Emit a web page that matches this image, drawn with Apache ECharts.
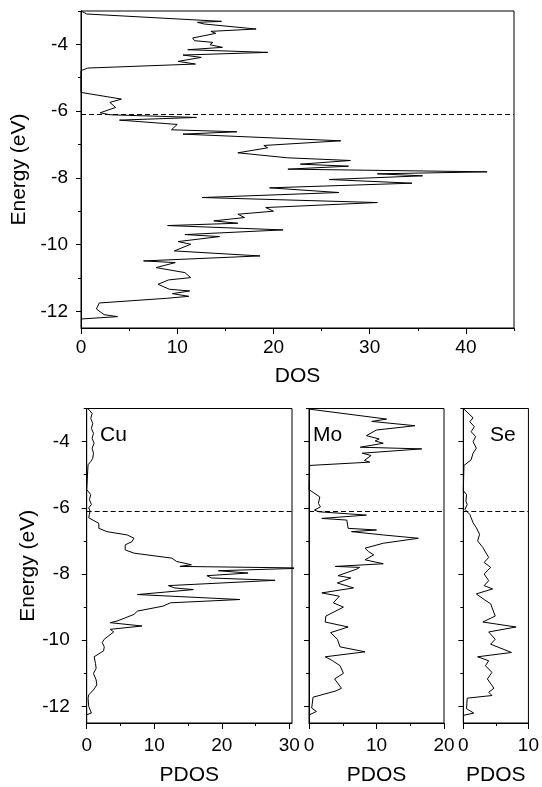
<!DOCTYPE html>
<html>
<head>
<meta charset="utf-8">
<script src="https://cdn.jsdelivr.net/npm/echarts@6/dist/echarts.min.js"></script>
<style>
html,body{margin:0;padding:0;background:#fff;}
#c{width:542px;height:787px;}
</style>
</head>
<body>
<div id="c"></div>
<script>
// ---- data (energy in eV, density of states) ----
var fermiLevel = -6.1;

var dosE = [-3.00,-3.09,-3.31,-3.34,-3.39,-3.54,-3.61,-3.67,-3.81,-3.89,-3.94,-4.01,-4.09,-4.16,-4.24,-4.32,-4.39,-4.51,-4.59,-4.71,-4.79,
  -5.44,-5.64,-5.74,-5.89,-6.05,-6.11,-6.19,-6.27,-6.40,-6.56,-6.62,-6.69,-6.89,-7.03,-7.10,-7.25,-7.40,-7.48,-7.59,-7.65,-7.74,-7.82,-7.88,-7.94,
  -8.05,-8.16,-8.30,-8.44,-8.59,-8.74,-8.89,-9.00,-9.09,-9.19,-9.29,-9.36,-9.43,-9.56,-9.70,-9.76,-9.91,-9.99,-10.19,-10.34,-10.49,-10.54,
  -10.69,-10.84,-10.99,-11.06,-11.19,-11.34,-11.39,-11.47,-11.55,-11.61,-11.75,-11.93,-12.10,-12.16,-12.23];
var dosV = [0,0.6,14.6,12.1,12.8,18.2,13.5,14.0,11.6,11.8,13.7,13.4,14.7,11.1,19.4,10.6,12.5,10.1,11.9,0.7,0,
  0,4.2,3.0,3.6,2.0,3.0,12.0,4.0,10.0,9.4,16.2,10.6,27.0,19.0,19.4,16.3,21.5,28.0,22.8,27.8,21.5,42.2,30.8,35.5,
  25.8,34.4,19.6,26.8,12.6,30.8,19.2,20.0,16.3,17.0,13.8,16.3,9.0,21.0,10.8,14.4,10.1,11.4,9.7,18.6,6.5,9.8,
  7.8,10.8,11.4,9.1,8.0,9.2,11.3,9.5,11.2,8.9,1.9,1.6,2.4,3.8,0];

var cuE = [-3.00,-3.05,-3.15,-3.30,-3.45,-3.60,-3.75,-3.90,-4.05,-4.20,-4.35,-4.50,-4.60,-4.70,-4.75,
  -5.45,-5.60,-5.75,-5.90,-6.00,-6.10,-6.20,-6.30,-6.47,-6.62,-6.72,-6.82,-6.92,-7.02,-7.12,-7.27,-7.37,-7.52,-7.62,-7.72,-7.77,-7.82,
  -7.90,-7.97,-8.05,-8.12,-8.19,-8.35,-8.42,-8.47,-8.62,-8.77,-8.87,-8.97,-9.12,-9.22,-9.42,-9.47,-9.57,-9.67,-9.75,-9.97,-10.07,-10.20,
  -10.32,-10.50,-10.70,-10.85,-11.00,-11.20,-11.35,-11.50,-11.65,-11.75,-12.00,-12.20,-12.25];
var cuV = [0.1,0.4,0.8,0.6,0.9,0.7,1.0,0.8,1.1,0.8,1.0,0.9,0.6,0.2,0,
  0,0.6,0.4,0.7,0.3,0.5,0.4,0.3,1.8,1.8,3.0,6.0,7.0,6.7,5.7,5.7,7.0,12.6,13.3,15.5,13.8,32.6,
  19.5,23.9,17.8,18.5,27.9,12.1,13.0,15.8,7.5,22.7,12.4,11.3,7.5,7.0,4.5,3.5,8.2,3.5,4.0,2.6,2.3,2.6,
  2.5,1.1,1.3,1.4,1.0,1.4,1.5,1.0,0.3,0.2,0.3,0.7,0];

var moE = [-3.02,-3.32,-3.39,-3.52,-3.65,-3.82,-3.92,-3.98,-4.05,-4.17,-4.22,-4.35,-4.42,-4.57,-4.62,-4.72,
  -5.45,-5.67,-5.87,-5.97,-6.07,-6.12,-6.22,-6.32,-6.37,-6.62,-6.67,-6.72,-6.82,-6.92,-7.07,-7.22,-7.32,-7.42,-7.57,-7.69,-7.77,-7.80,-7.85,
  -8.05,-8.12,-8.27,-8.42,-8.57,-8.67,-8.87,-9.00,-9.27,-9.45,-9.60,-9.77,-9.97,-10.20,-10.35,-10.50,-10.62,-10.77,-11.00,-11.17,
  -11.45,-11.53,-11.72,-12.05,-12.15,-12.25];
var moV = [0.1,11.5,9.3,15.7,10.0,8.5,10.4,9.8,11.0,7.6,16.7,7.9,9.2,8.2,9.0,0.1,
  0,1.6,1.4,1.7,0.8,1.5,8.5,1.9,5.6,5.8,10.0,6.3,11.0,16.2,11.0,8.3,8.8,9.6,8.3,11.0,3.9,7.5,7.1,
  4.3,6.2,4.2,6.6,1.9,4.5,3.6,5.1,2.5,2.4,5.8,3.2,4.2,4.6,8.3,2.4,3.5,4.6,5.1,3.8,
  4.8,4.0,0.6,0.4,1.1,0.1];

var seE = [-3.02,-3.28,-3.40,-3.55,-3.70,-3.85,-4.00,-4.20,-4.35,-4.55,-4.72,
  -5.48,-5.60,-5.80,-5.90,-6.05,-6.20,-6.45,-6.60,-6.80,-7.00,-7.20,-7.50,-7.65,-7.80,-8.00,-8.20,-8.35,-8.45,-8.60,-8.77,-8.90,
  -9.27,-9.45,-9.60,-9.75,-9.97,-10.12,-10.37,-10.50,-10.62,-10.77,-10.97,-11.17,-11.45,-11.57,-11.67,-11.75,-12.07,-12.20,-12.27];
var seV = [0.1,1.5,1.0,1.7,1.2,1.9,1.5,2.0,1.5,1.2,0.1,
  0,0.5,0.4,0.6,0.25,1.0,1.5,2.0,2.5,2.2,3.0,3.9,3.2,4.2,3.2,3.9,3.2,4.5,2.0,3.2,4.2,
  4.9,3.0,8.1,3.9,4.9,4.2,7.4,2.2,3.9,3.4,4.4,3.7,4.7,3.9,4.4,0.6,0.5,1.6,0];

// tick values
var energyMajor = [-12,-10,-8,-6,-4];
var energyMinor = [-11,-9,-7,-5,-3];
var dosMajor = [0,10,20,30,40];
var dosMinor = [5,15,25,35,45];
var cuMajor = [0,10,20,30];
var cuMinor = [5,15,25];
var moMajor = [0,10,20];
var moMinor = [5,15];
var seMajor = [0,10];
var seMinor = [5];

function zip(v, e){ var out=[]; for (var i=0;i<v.length;i++) out.push([v[i], e[i]]); return out; }

var FONT = "'Liberation Sans', Arial, sans-serif";
var BLACK = '#000';

var grids = [
  {left:81, top:11, width:433, height:317},
  {left:86.7, top:408.5, width:205.3, height:317},
  {left:309, top:408.5, width:135, height:317},
  {left:463.3, top:408.5, width:67.7, height:317}
];
grids.forEach(function(g){ g.show = true; g.borderColor = BLACK; g.borderWidth = 1; g.backgroundColor = 'transparent'; });

var xSpec = [
  {max:45, major:dosMajor, minor:dosMinor, name:'DOS', labelMargin:10, nameGap:38},
  {max:30.4, major:cuMajor, minor:cuMinor, name:'PDOS', labelMargin:13, nameGap:42},
  {max:20, major:moMajor, minor:moMinor, name:'PDOS', labelMargin:13, nameGap:42},
  {max:10, major:seMajor, minor:seMinor, name:'PDOS', labelMargin:13, nameGap:42}
];

var xAxes = [], yAxes = [];
xSpec.forEach(function(s, i){
  xAxes.push({
    type:'value', gridIndex:i, min:0, max:s.max, position:'bottom',
    name:s.name, nameLocation:'middle', nameGap:s.nameGap,
    nameTextStyle:{fontSize:21, color:BLACK, fontFamily:FONT},
    axisLine:{show:true, onZero:false, lineStyle:{color:BLACK, width:1}},
    axisTick:{show:true, length:6, customValues:s.major, lineStyle:{color:BLACK, width:1}},
    axisLabel:{show:true, customValues:s.major, margin:s.labelMargin, fontSize:19, color:BLACK, fontFamily:FONT},
    splitLine:{show:false}
  });
  xAxes.push({
    type:'value', gridIndex:i, min:0, max:s.max, position:'bottom',
    axisLine:{show:false, onZero:false},
    axisTick:{show:true, length:3, customValues:s.minor, lineStyle:{color:BLACK, width:1}},
    axisLabel:{show:false},
    splitLine:{show:false}
  });
  var showLab = (i < 2);
  yAxes.push({
    type:'value', gridIndex:i, min:-12.5, max:-3, position:'left',
    name: showLab ? 'Energy (eV)' : '', nameLocation:'middle', nameGap: (i===0 ? 43 : 47),
    nameTextStyle:{fontSize:21, color:BLACK, fontFamily:FONT},
    axisLine:{show:true, onZero:false, lineStyle:{color:BLACK, width:1}},
    axisTick:{show:true, length:5, customValues:energyMajor, lineStyle:{color:BLACK, width:1}},
    axisLabel:{show:showLab, customValues:energyMajor, margin:(i===0?13:17), fontSize:19, color:BLACK, fontFamily:FONT},
    splitLine:{show:false}
  });
  yAxes.push({
    type:'value', gridIndex:i, min:-12.5, max:-3, position:'left',
    axisLine:{show:false, onZero:false},
    axisTick:{show:true, length:3, customValues:energyMinor, lineStyle:{color:BLACK, width:1}},
    axisLabel:{show:false},
    splitLine:{show:false}
  });
});

function fermiLine(){
  return {
    silent:true, symbol:['none','none'], animation:false,
    label:{show:false},
    lineStyle:{type:[5,3], color:BLACK, width:1.1},
    data:[{yAxis:fermiLevel}]
  };
}

var sets = [zip(dosV,dosE), zip(cuV,cuE), zip(moV,moE), zip(seV,seE)];
var series = sets.map(function(d, i){
  return {
    type:'line', xAxisIndex:2*i, yAxisIndex:2*i, data:d,
    showSymbol:false, symbol:'none', smooth:false, clip:(i!==1), animation:false,
    lineStyle:{color:BLACK, width:1},
    markLine:fermiLine()
  };
});

var panelLabels = [
  {text:'Cu', x:100, y:425},
  {text:'Mo', x:313, y:425},
  {text:'Se', x:490, y:425}
];

var chart = echarts.init(document.getElementById('c'), null, {renderer:'canvas'});
chart.setOption({
  backgroundColor:'#fff',
  animation:false,
  grid:grids,
  xAxis:xAxes,
  yAxis:yAxes,
  series:series,
  graphic:panelLabels.map(function(p){
    return {type:'text', x:p.x, y:p.y, z:10, style:{text:p.text, fill:BLACK, fontSize:21, fontFamily:FONT, verticalAlign:'top'}};
  })
});
</script>
</body>
</html>
